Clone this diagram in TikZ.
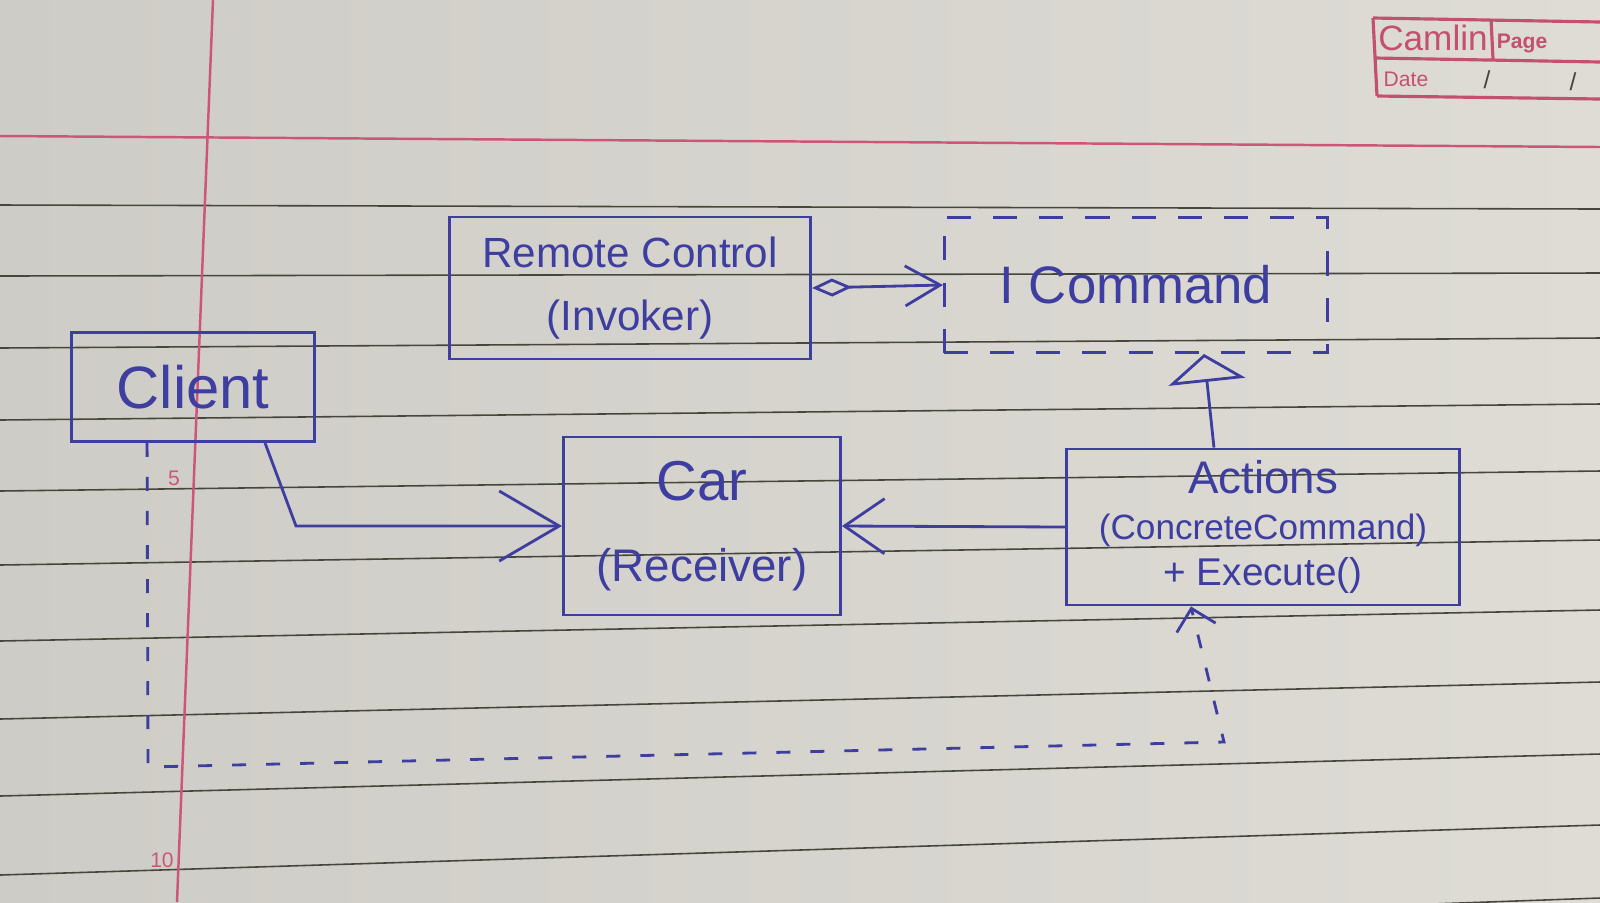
\documentclass[tikz,border=0pt]{standalone}
\usepackage{fontspec}
\setmainfont{Liberation Sans}
\usetikzlibrary{arrows.meta,positioning,shapes.geometric}
\definecolor{ink}{RGB}{62,62,160}
\definecolor{paper}{RGB}{222,220,213}
\definecolor{paperdark}{RGB}{206,204,198}
\definecolor{rule}{RGB}{70,70,60}
\definecolor{margin}{RGB}{205,85,120}
\definecolor{camlin}{RGB}{196,80,112}

\begin{document}
\begin{tikzpicture}[x=0.01cm, y=-0.01cm,
    box/.style={draw=ink, line width=0.8pt, rectangle, inner sep=0pt, text=ink, align=center},
    inkline/.style={draw=ink, line width=0.8pt},
    camlintext/.style={text=camlin, inner sep=0pt}]
        \useasboundingbox (0,0) rectangle (1600,902);
        % Papier
        \fill[left color=paperdark, right color=paper] (0,0) rectangle (1600,902);
        \foreach \l/\r in {205/209, 276/273, 348/338, 420/404, 491/471, 565/540, 641/610, 719/682, 796/754, 875/825, 955/898}
            \draw[rule, line width=0.45pt] (0,\l) -- (1600,\r);
        \draw[margin, line width=0.7pt] (213,0) -- (177,902);
        \draw[margin, line width=0.7pt] (0,136) -- (1600,147);
        \node[text=margin, font=\fontsize{6}{6}\selectfont] (num_5) at (174,478) {5};
        \node[text=margin, font=\fontsize{6}{6}\selectfont] (num_10) at (162,860) {10};
        
        % Cartouche
        \draw[camlin, line width=0.9pt] (1373,18) -- (1600,22) (1375,58) -- (1600,62)
            (1377,96) -- (1600,99) (1373,18) -- (1377,96) (1491,19) -- (1493,59);
        \node[camlintext, font=\fontsize{10}{10}\selectfont] (camlin_logo) at (1433,38) {Camlin};
        \node[camlintext, font=\fontsize{6}{6}\selectfont\bfseries] (page_lbl) at (1522,43) {Page};
        \node[camlintext, font=\fontsize{6}{6}\selectfont] (date_lbl) at (1406,79) {Date};
        \node[text=rule, font=\fontsize{7}{7}\selectfont] (slash_a) at (1487,80) {/};
        \node[text=rule, font=\fontsize{7}{7}\selectfont] (slash_b) at (1573,82) {/};
        
        % Boites
        \node[box, minimum width=3.61cm, minimum height=1.42cm, font=\fontsize{12}{18}\selectfont] (remote) at (630,288) {Remote Control\\(Invoker)};
        \node[box, dash pattern=on 2.4mm off 2.2mm, minimum width=3.83cm, minimum height=1.35cm, font=\fontsize{15}{15}\selectfont] (icommand) at (1136,285) {I Command};
        \node[box, minimum width=2.43cm, minimum height=1.09cm, font=\fontsize{17}{17}\selectfont] (client) at (193,387) {Client};
        \node[box, minimum width=2.77cm, minimum height=1.78cm, font=\fontsize{13}{23}\selectfont] (car) at (702,526) {{\fontsize{16}{16}\selectfont Car}\\(Receiver)};
        \node[box, minimum width=3.93cm, minimum height=1.56cm, font=\fontsize{11}{13}\selectfont] (actions) at (1263,527) {{\fontsize{13}{13}\selectfont Actions}\\{\fontsize{10}{13}\selectfont (ConcreteCommand)}\\+ Execute()};
        
        % Points de passage
        \coordinate (client_bend) at (296,526);
        \coordinate (dash_corner) at (148,767);
        \coordinate (dash_turn) at (1224,742);
        
        % Fleches
        \draw[inkline, {Diamond[open, length=4mm, width=1.8mm]}-{Straight Barb[length=3.5mm, width=4mm]}] (remote.east) -- (icommand.west);
        \draw[inkline, -{Straight Barb[length=6mm, width=7mm]}] ([xshift=0.72cm]client.south) -- (client_bend) -- (car.west);
        \draw[inkline, -{Straight Barb[length=4mm, width=5.5mm]}] (actions.west) -- (car.east);
        \draw[inkline, -{Triangle[open, length=2.8mm, width=7.7mm]}] ([xshift=-0.49cm]actions.north) -- ([xshift=0.68cm]icommand.south);
        \draw[inkline, dash pattern=on 1.4mm off 2mm, -{Straight Barb[length=2mm, width=4mm]}] ([xshift=0.77cm]client.south west) -- (dash_corner) -- (dash_turn) -- ([xshift=-0.72cm]actions.south);
    \end{tikzpicture}
\end{document}
